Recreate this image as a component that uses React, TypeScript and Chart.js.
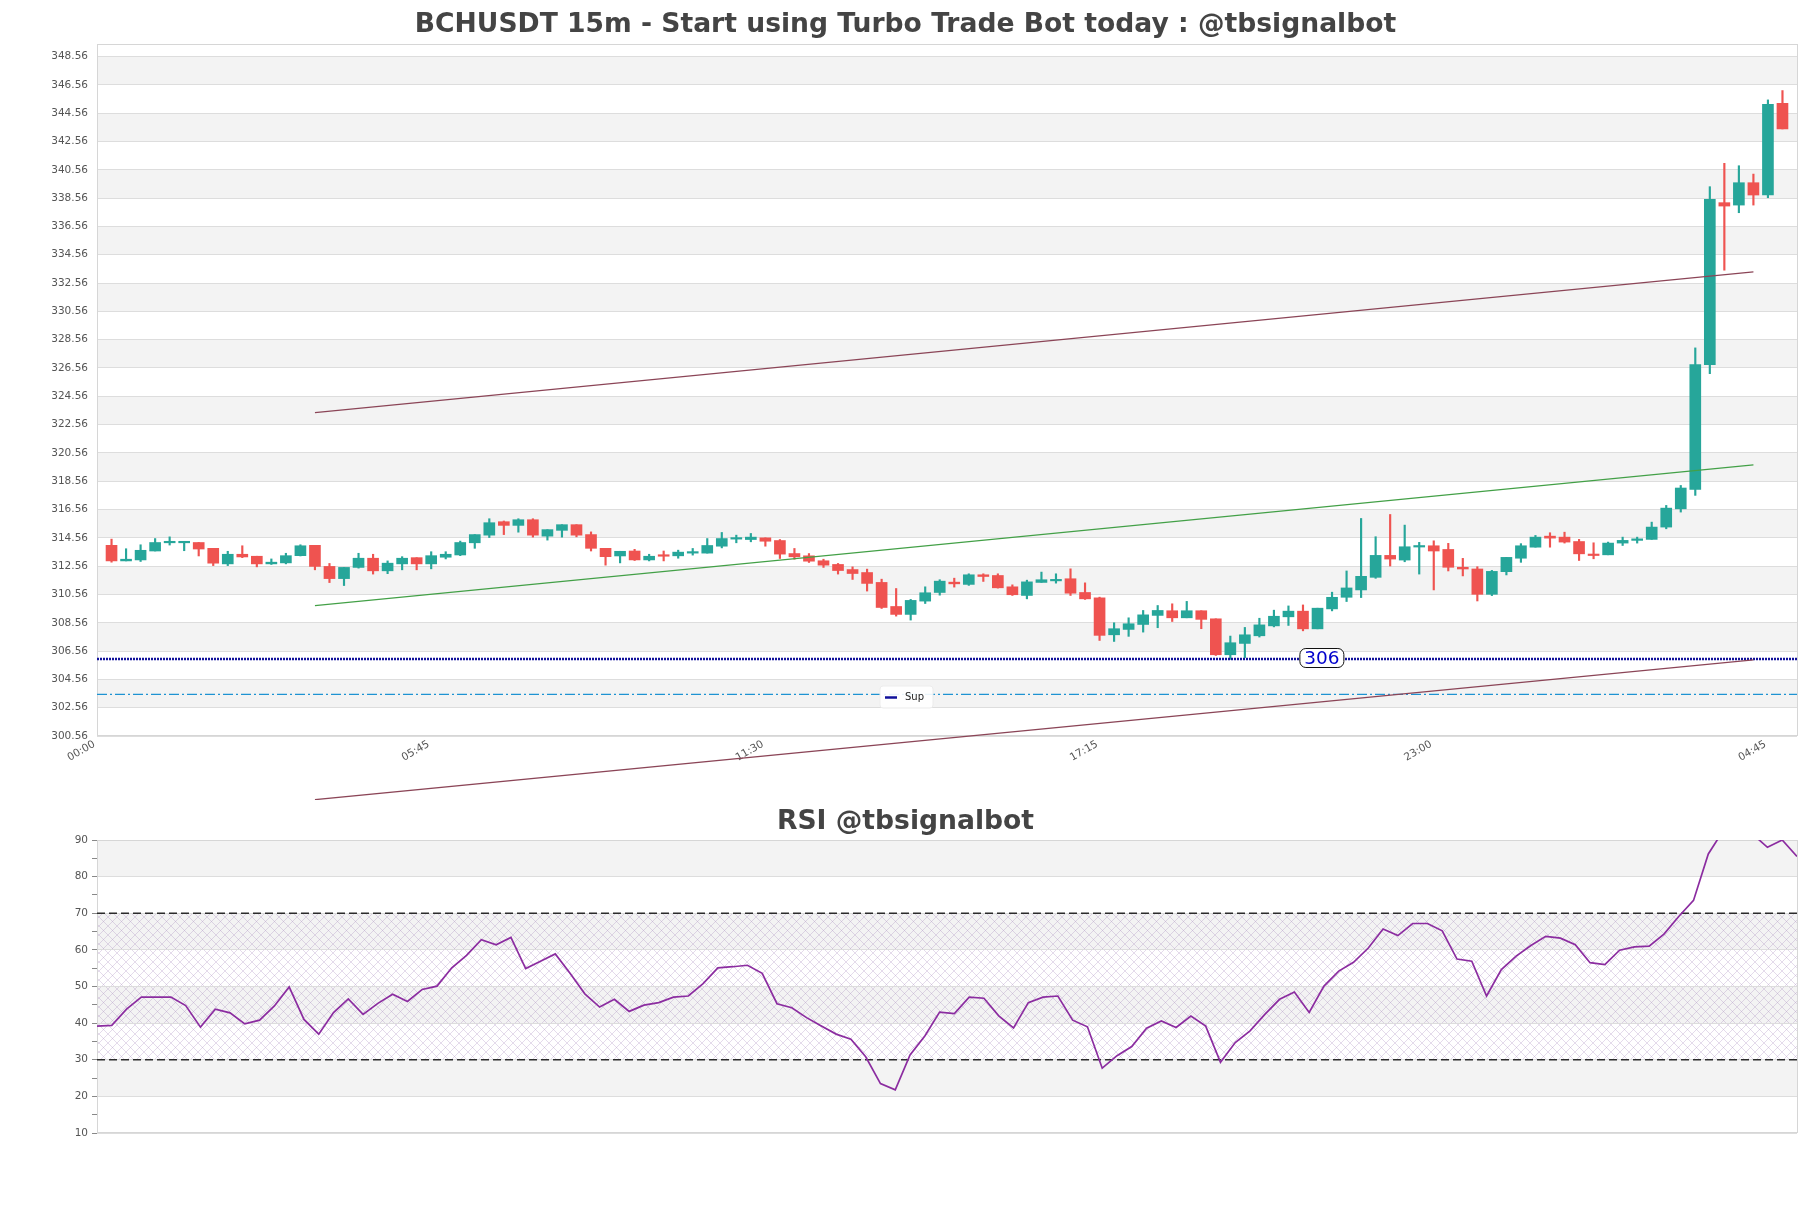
import React, { useEffect, useRef } from 'react';
import { Chart, registerables } from 'chart.js';
Chart.register(...registerables);

const FONT = '"DejaVu Sans", "Liberation Sans", sans-serif';
const UP = '#26a69a';
const DOWN = '#ef5350';
const MAROON = '#8b4557';
const GREEN_LINE = '#43a047';
const NAVY = '#10109a';
const CYAN = '#1e93d2';
const PURPLE = '#8b2ca0';

const mainTitle = 'BCHUSDT 15m - Start using Turbo Trade Bot today : @tbsignalbot';
const rsiTitle = 'RSI @tbsignalbot';

const opens = [
  314.03, 312.93, 313.0, 313.63, 314.21, 314.21, 314.23, 313.82, 312.72, 313.4,
  313.26, 312.72, 312.79, 313.3, 314.03, 312.54, 311.68, 312.47, 313.12, 312.23,
  312.72, 313.16, 312.72, 313.19, 313.35, 314.21, 314.75, 315.7, 315.44, 315.84,
  314.68, 315.09, 315.49, 314.79, 313.82, 313.28, 313.63, 313.0, 313.3, 313.29,
  313.48, 313.48, 313.97, 314.47, 314.44, 314.56, 314.37, 313.45, 313.29, 312.94,
  312.68, 312.32, 312.11, 311.41, 309.71, 309.15, 310.09, 310.7, 311.43, 311.27,
  311.95, 311.9, 311.1, 310.49, 311.41, 311.52, 311.67, 310.7, 310.32, 307.71,
  308.09, 308.44, 309.08, 309.41, 308.91, 309.41, 308.84, 306.3, 307.1, 307.64,
  308.34, 308.98, 309.38, 308.13, 309.54, 310.36, 310.88, 311.77, 313.32, 312.99,
  313.91, 314.0, 313.74, 312.48, 312.36, 310.57, 312.17, 313.12, 313.9, 314.68,
  314.61, 314.3, 313.36, 313.36, 314.19, 314.38, 314.45, 315.32, 316.61, 317.98,
  326.8, 338.24, 338.07, 339.65, 338.78, 345.26
];
const highs = [
  314.47, 313.79, 314.07, 314.51, 314.63, 314.26, 314.23, 313.82, 313.61, 314.0,
  313.26, 313.07, 313.47, 314.07, 314.03, 312.75, 312.47, 313.47, 313.4, 312.93,
  313.23, 313.16, 313.58, 313.58, 314.33, 314.79, 315.91, 315.75, 315.91, 315.91,
  315.14, 315.49, 315.49, 314.98, 313.82, 313.61, 313.75, 313.4, 313.63, 313.69,
  313.81, 314.51, 314.94, 314.75, 314.87, 314.56, 314.44, 313.81, 313.45, 313.05,
  312.75, 312.51, 312.35, 311.64, 310.98, 310.21, 311.1, 311.6, 311.71, 312.02,
  312.02, 312.02, 311.24, 311.57, 312.14, 312.02, 312.37, 311.38, 310.37, 308.56,
  308.91, 309.43, 309.78, 309.9, 310.07, 309.41, 308.84, 307.62, 308.23, 308.88,
  309.45, 309.75, 309.82, 309.59, 310.72, 312.22, 315.93, 314.64, 316.21, 315.46,
  314.24, 314.35, 314.17, 313.11, 312.52, 312.26, 313.18, 314.15, 314.73, 314.92,
  314.96, 314.45, 314.21, 314.26, 314.61, 314.61, 315.67, 316.85, 318.26, 327.98,
  339.37, 341.02, 340.85, 340.26, 345.5, 346.16
];
const lows = [
  312.84, 312.93, 312.89, 313.63, 314.05, 313.65, 313.28, 312.6, 312.6, 313.16,
  312.51, 312.68, 312.72, 313.28, 312.3, 311.4, 311.19, 312.42, 312.0, 312.03,
  312.3, 312.3, 312.37, 313.07, 313.3, 313.82, 314.58, 314.79, 314.96, 314.61,
  314.4, 314.61, 314.63, 313.63, 312.63, 312.79, 312.96, 312.93, 312.93, 313.12,
  313.34, 313.48, 313.85, 314.21, 314.28, 313.97, 313.1, 313.05, 312.82, 312.47,
  312.0, 311.62, 310.8, 309.57, 309.03, 308.75, 309.92, 310.51, 311.08, 311.2,
  311.48, 311.01, 310.49, 310.25, 311.41, 311.36, 310.49, 310.21, 307.31, 307.24,
  307.6, 307.9, 308.21, 308.65, 308.91, 308.14, 306.25, 305.97, 306.1, 307.55,
  308.27, 308.37, 307.99, 308.13, 309.4, 310.06, 310.34, 311.7, 312.57, 312.87,
  312.0, 310.88, 312.22, 311.87, 310.1, 310.48, 311.94, 312.83, 313.9, 313.9,
  314.19, 312.96, 313.08, 313.36, 314.02, 314.19, 314.45, 315.2, 316.38, 317.56,
  326.16, 333.47, 337.53, 338.07, 338.59, 343.45
];
const closes = [
  312.93, 313.05, 313.68, 314.23, 314.28, 314.26, 313.77, 312.77, 313.4, 313.21,
  312.72, 312.84, 313.3, 314.0, 312.54, 311.68, 312.47, 313.12, 312.23, 312.77,
  313.12, 312.72, 313.3, 313.4, 314.23, 314.79, 315.63, 315.44, 315.84, 314.75,
  315.14, 315.49, 314.75, 313.82, 313.23, 313.61, 313.0, 313.26, 313.26, 313.55,
  313.55, 314.02, 314.51, 314.54, 314.61, 314.32, 313.41, 313.22, 312.91, 312.63,
  312.25, 312.04, 311.34, 309.64, 309.15, 310.14, 310.68, 311.5, 311.31, 311.95,
  311.83, 311.03, 310.54, 311.45, 311.6, 311.62, 310.65, 310.25, 307.67, 308.14,
  308.49, 309.12, 309.43, 308.91, 309.41, 308.8, 306.3, 307.15, 307.71, 308.41,
  309.02, 309.38, 308.13, 309.59, 310.36, 311.02, 311.84, 313.32, 313.06, 313.93,
  314.0, 313.63, 312.48, 312.36, 310.57, 312.19, 313.18, 314.0, 314.61, 314.54,
  314.26, 313.43, 313.31, 314.19, 314.38, 314.49, 315.32, 316.66, 318.08, 326.8,
  338.47, 338.0, 339.65, 338.78, 345.19, 343.45
];

const rsiValues = [
  39.2, 39.4, 43.8, 47.1, 47.1, 47.1, 44.8, 38.9, 43.8, 42.8,
  39.8, 40.8, 44.7, 49.9, 41.0, 37.0, 42.9, 46.6, 42.4, 45.4,
  47.9, 45.9, 49.2, 50.1, 55.1, 58.5, 62.8, 61.4, 63.4, 54.9,
  56.9, 58.9, 53.6, 48.0, 44.4, 46.5, 43.2, 44.9, 45.6, 47.1,
  47.4, 50.8, 55.1, 55.4, 55.8, 53.6, 45.3, 44.2, 41.5, 39.2,
  37.0, 35.6, 30.8, 23.5, 21.8, 31.3, 36.5, 43.0, 42.6, 47.1,
  46.8, 42.0, 38.7, 45.6, 47.1, 47.4, 40.8, 39.0, 27.7, 31.1,
  33.6, 38.6, 40.6, 38.8, 41.9, 39.2, 29.3, 34.7, 37.9, 42.4,
  46.5, 48.5, 42.9, 50.1, 54.2, 56.6, 60.5, 65.7, 63.9, 67.2,
  67.2, 65.2, 57.5, 56.9, 47.4, 54.6, 58.3, 61.2, 63.7, 63.2,
  61.4, 56.5, 56.0, 59.9, 60.8, 61.0, 64.3, 69.1, 73.5, 86.2,
  92.5, 93.5, 91.6, 88.0, 90.0, 85.5
];

const xTickPositions = [0, 23, 46, 69, 92, 115];
const xTickLabels = ['00:00', '05:45', '11:30', '17:15', '23:00', '04:45'];
const yTicks = [
  300.56, 302.56, 304.56, 306.56, 308.56, 310.56, 312.56, 314.56, 316.56, 318.56,
  320.56, 322.56, 324.56, 326.56, 328.56, 330.56, 332.56, 334.56, 336.56, 338.56,
  340.56, 342.56, 344.56, 346.56, 348.56
];
const yMin = 300.56;
const yMax = 349.45;
const rsiTickValues = [10, 15, 20, 25, 30, 35, 40, 45, 50, 55, 60, 65, 70, 75, 80, 85, 90];

const upperTrend = [{ x: 14, y: 323.41 }, { x: 113, y: 333.35 }];
const midTrend = [{ x: 14, y: 309.77 }, { x: 113, y: 319.72 }];
const lowerTrend = [{ x: 14, y: 296.06 }, { x: 113, y: 305.94 }];
const supportLevel = 306;
const supportLabelX = 83.3;
const dashLevel = 303.5;
const rsiHigh = 70;
const rsiLow = 30;

function makeBands(base: number, step: number, color: string) {
  return {
    id: 'bands',
    beforeDraw(chart: any) {
      const { ctx, chartArea: a, scales } = chart;
      const y = scales.y;
      ctx.save();
      ctx.beginPath();
      ctx.rect(a.left, a.top, a.right - a.left, a.bottom - a.top);
      ctx.clip();
      ctx.fillStyle = color;
      for (let k = 0; base + k * step < y.max; k++) {
        if (k % 2 === 1) {
          const y0 = y.getPixelForValue(base + k * step);
          const y1 = y.getPixelForValue(base + (k + 1) * step);
          ctx.fillRect(a.left, y1, a.right - a.left, y0 - y1);
        }
      }
      ctx.restore();
    },
  };
}

const borderPlugin = {
  id: 'plotBorder',
  beforeDatasetsDraw(chart: any) {
    const { ctx, chartArea: a } = chart;
    ctx.save();
    ctx.strokeStyle = '#d6d6d6';
    ctx.lineWidth = 1;
    ctx.strokeRect(Math.round(a.left) + 0.5, Math.round(a.top) + 0.5, Math.round(a.right - a.left), Math.round(a.bottom - a.top) - 1);
    ctx.restore();
  },
};

function makeTitle(text: string, baseline: number) {
  return {
    id: 'figTitle',
    afterDraw(chart: any) {
      const { ctx } = chart;
      ctx.save();
      ctx.font = `bold 26.6px ${FONT}`;
      ctx.fillStyle = '#444444';
      ctx.textAlign = 'center';
      ctx.textBaseline = 'alphabetic';
      ctx.fillText(text, chart.width / 2, baseline);
      ctx.restore();
    },
  };
}

const annotPlugin = {
  id: 'annot',
  afterDatasetsDraw(chart: any) {
    const { ctx, scales } = chart;
    const x = scales.x;
    const y = scales.y;
    const cx = x.getPixelForValue(supportLabelX);
    const cy = y.getPixelForValue(supportLevel) - 1;
    const w = 44;
    const h = 19;
    ctx.save();
    ctx.beginPath();
    ctx.roundRect(cx - w / 2, cy - h / 2, w, h, 6);
    ctx.fillStyle = '#ffffff';
    ctx.fill();
    ctx.strokeStyle = '#111111';
    ctx.lineWidth = 1;
    ctx.stroke();
    ctx.fillStyle = '#0000cc';
    ctx.font = `18.5px ${FONT}`;
    ctx.textAlign = 'center';
    ctx.textBaseline = 'middle';
    ctx.fillText(String(supportLevel), cx, cy + 1);
    ctx.beginPath();
    ctx.roundRect(880, 686, 53, 22, 3);
    ctx.fillStyle = 'rgba(255,255,255,0.9)';
    ctx.fill();
    ctx.strokeStyle = '#ececec';
    ctx.stroke();
    ctx.beginPath();
    ctx.moveTo(885, 697.5);
    ctx.lineTo(897, 697.5);
    ctx.strokeStyle = NAVY;
    ctx.lineWidth = 2.5;
    ctx.stroke();
    ctx.fillStyle = '#222222';
    ctx.font = `10px ${FONT}`;
    ctx.textAlign = 'left';
    ctx.textBaseline = 'middle';
    ctx.fillText('Sup', 905, 697.5);
    ctx.restore();
  },
};

function makeHatch() {
  return {
    id: 'hatch',
    beforeDraw(chart: any) {
      const { ctx, chartArea: a, scales } = chart;
      const y = scales.y;
      const s = 9;
      const pc = document.createElement('canvas');
      pc.width = s;
      pc.height = s;
      const p = pc.getContext('2d')!;
      p.strokeStyle = 'rgba(165,135,190,0.30)';
      p.lineWidth = 1;
      p.beginPath();
      p.moveTo(0, 0); p.lineTo(s, s);
      p.moveTo(s, 0); p.lineTo(0, s);
      p.stroke();
      const pat = ctx.createPattern(pc, 'repeat');
      const y0 = y.getPixelForValue(rsiHigh);
      const y1 = y.getPixelForValue(rsiLow);
      ctx.save();
      ctx.fillStyle = pat;
      ctx.fillRect(a.left, y0, a.right - a.left, y1 - y0);
      ctx.restore();
    },
  };
}

function MainChart() {
  const ref = useRef<HTMLCanvasElement>(null);
  useEffect(() => {
    const colors = opens.map((o, i) => (closes[i] >= o ? UP : DOWN));
    const bodies = opens.map((o, i) => ({ x: i, y: [o, closes[i]] }));
    const wicks = lows.map((l, i) => ({ x: i, y: [l, highs[i]] }));
    const tickFont = { family: FONT, size: 10.5 };
    const chart = new Chart(ref.current as HTMLCanvasElement, {
      type: 'bar',
      data: {
        datasets: [
          { type: 'line', data: upperTrend, borderColor: MAROON, borderWidth: 1.2, pointRadius: 0, order: 0 },
          { type: 'line', data: midTrend, borderColor: GREEN_LINE, borderWidth: 1.2, pointRadius: 0, order: 0 },
          { type: 'line', data: lowerTrend, borderColor: MAROON, borderWidth: 1.2, pointRadius: 0, order: 0, clip: false },
          { type: 'line', data: [{ x: -1, y: supportLevel }, { x: 116, y: supportLevel }], borderColor: NAVY, borderWidth: 2.4, borderDash: [2, 1], pointRadius: 0, order: 0 },
          { type: 'line', data: [{ x: -1, y: dashLevel }, { x: 116, y: dashLevel }], borderColor: CYAN, borderWidth: 1.4, borderDash: [10, 3, 2, 3], pointRadius: 0, order: 0 },
          { type: 'bar', data: bodies, backgroundColor: colors, barThickness: 11, grouped: false, minBarLength: 1.5, borderWidth: 0, order: 1 },
          { type: 'bar', data: wicks, backgroundColor: colors, barThickness: 1.5, grouped: false, borderWidth: 0, order: 2 },
        ] as any,
      },
      options: {
        responsive: false,
        animation: false,
        events: [],
        layout: { padding: { left: 37, right: 14, top: 44, bottom: 24 } },
        plugins: { legend: { display: false }, tooltip: { enabled: false } },
        scales: {
          x: {
            type: 'linear',
            min: -1,
            max: 116,
            offset: false,
            grid: { display: false, drawTicks: false },
            border: { display: false },
            afterBuildTicks: (s: any) => { s.ticks = xTickPositions.map((v) => ({ value: v })); },
            afterFit: (s: any) => { s.height = 40; },
            ticks: {
              autoSkip: false,
              minRotation: 30,
              maxRotation: 30,
              labelOffset: -17,
              padding: 2,
              font: tickFont,
              color: '#555555',
              callback: (v: any) => {
                const k = xTickPositions.indexOf(Number(v));
                return k >= 0 ? xTickLabels[k] : '';
              },
            },
          },
          y: {
            type: 'linear',
            min: yMin,
            max: yMax,
            grid: { color: '#dddddd', drawTicks: false, lineWidth: 1 },
            border: { display: false },
            afterBuildTicks: (s: any) => { s.ticks = yTicks.map((v) => ({ value: v })); },
            afterFit: (s: any) => { s.width = 60; },
            ticks: { padding: 9, font: tickFont, color: '#555555', callback: (v: any) => Number(v).toFixed(2) },
          },
        } as any,
      },
      plugins: [makeBands(yMin, 2, '#f3f3f3'), borderPlugin, annotPlugin, makeTitle(mainTitle, 32)],
    } as any);
    return () => chart.destroy();
  }, []);
  return <canvas ref={ref} width={1811} height={800} style={{ position: 'fixed', left: 0, top: 0 }} />;
}

function RsiChart() {
  const ref = useRef<HTMLCanvasElement>(null);
  useEffect(() => {
    const tickFont = { family: FONT, size: 10.5 };
    const chart = new Chart(ref.current as HTMLCanvasElement, {
      type: 'line',
      data: {
        datasets: [
          { data: rsiValues.map((v, i) => ({ x: i, y: v })), borderColor: PURPLE, borderWidth: 1.7, pointRadius: 0, order: 0 },
          { data: [{ x: 0, y: rsiHigh }, { x: 115, y: rsiHigh }], borderColor: '#2b2b2b', borderWidth: 1.3, borderDash: [8, 4], pointRadius: 0, order: 1 },
          { data: [{ x: 0, y: rsiLow }, { x: 115, y: rsiLow }], borderColor: '#2b2b2b', borderWidth: 1.3, borderDash: [8, 4], pointRadius: 0, order: 1 },
        ],
      },
      options: {
        responsive: false,
        animation: false,
        events: [],
        layout: { padding: { left: 37, right: 14, top: 40, bottom: 75 } },
        plugins: { legend: { display: false }, tooltip: { enabled: false } },
        scales: {
          x: { type: 'linear', min: 0, max: 115, display: false },
          y: {
            type: 'linear',
            min: 10,
            max: 90,
            border: { display: false },
            afterBuildTicks: (s: any) => { s.ticks = rsiTickValues.map((v) => ({ value: v })); },
            afterFit: (s: any) => { s.width = 60; },
            grid: {
              color: (c: any) => (c.tick && c.tick.value % 10 === 0 ? '#dddddd' : 'rgba(0,0,0,0)'),
              tickColor: '#888888',
              tickLength: 5,
              drawTicks: true,
            },
            ticks: {
              padding: 4,
              font: tickFont,
              color: '#555555',
              callback: (v: any) => (Number(v) % 10 === 0 ? String(v) : ''),
            },
          },
        } as any,
      },
      plugins: [makeBands(10, 10, '#f3f3f3'), makeHatch(), borderPlugin, makeTitle(rsiTitle, 29)],
    } as any);
    return () => chart.destroy();
  }, []);
  return <canvas ref={ref} width={1811} height={408} style={{ position: 'fixed', left: 0, top: 800 }} />;
}

export default function App() {
  return (
    <div>
      <MainChart />
      <RsiChart />
    </div>
  );
}
